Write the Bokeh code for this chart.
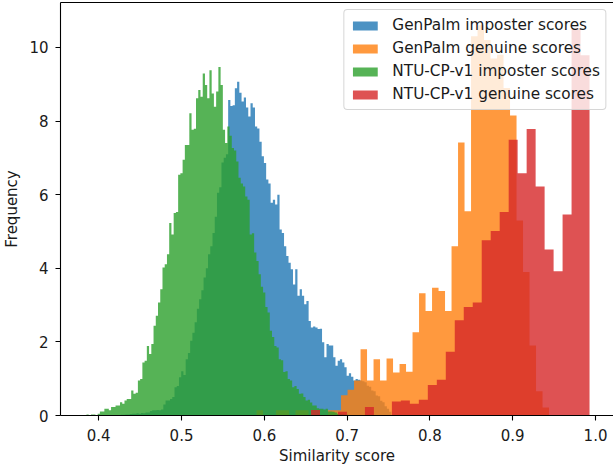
import numpy as np
from bokeh.plotting import figure
from bokeh.models import (Range1d, FixedTicker, NumeralTickFormatter, Legend,
                          LegendItem, LinearAxis)
from bokeh.embed import file_html
from bokeh.resources import INLINE

# ---------------- data (density histograms) ----------------
labels = ["GenPalm imposter scores", "GenPalm genuine scores",
          "NTU-CP-v1 imposter scores", "NTU-CP-v1 genuine scores"]
colors = ["#1f77b4", "#ff7f0e", "#2ca02c", "#d62728"]

x_ticks = [0.4, 0.5, 0.6, 0.7, 0.8, 0.9, 1.0]
y_ticks = [0, 2, 4, 6, 8, 10]

# GenPalm imposter: first bin edge, bin width, bin heights
gp_imp_start = 0.4213
gp_imp_width = 0.0027
gp_imp_heights = [
    0.01, 0.01, 0.02, 0.02, 0.03, 0.03, 0.04,
    0.05, 0.05, 0.06, 0.05, 0.07, 0.06, 0.08, 0.08,
    0.12, 0.14, 0.14, 0.15, 0.14, 0.16,
    0.30, 0.41, 0.41, 0.45, 0.50, 0.77, 0.80, 1.04, 1.20, 1.10,
    1.53, 1.70, 2.03, 2.25, 2.53, 2.90, 3.16, 3.40, 3.75, 4.00,
    4.38, 4.60, 4.96, 5.40, 6.05, 6.20, 6.87, 7.00, 7.10, 8.57,
    8.41, 8.43, 8.89, 9.07, 8.77, 8.53, 8.64, 8.37, 8.12, 8.48,
    8.37, 7.85, 7.80, 7.44, 7.04, 6.86, 6.41, 6.30, 5.78, 5.86,
    5.73, 6.00, 5.05, 4.96, 4.60, 4.33, 4.15, 3.97, 3.56, 3.97,
    3.25, 3.43, 3.25, 3.02, 3.11, 2.57, 2.39, 2.42, 2.39, 2.35,
    2.36, 1.99, 1.58, 1.94, 1.90, 1.90, 1.58, 1.35, 1.49, 1.53,
    1.44, 1.31, 1.08, 1.15, 1.05, 0.95, 0.99, 0.97, 0.95, 0.93,
    0.90, 0.81, 0.78, 0.68, 0.66, 0.54, 0.52, 0.40, 0.36, 0.25,
    0.18, 0.10]

# GenPalm genuine
gp_gen_start = 0.5906
gp_gen_width = 0.00785
gp_gen_heights = [
    0.14, 0.00, 0.00, 0.14, 0.14, 0.00, 0.14, 0.14, 0.00, 0.00,
    0.00, 0.14, 0.14,
    0.55, 0.70, 0.95, 1.80, 0.95, 1.53, 0.95, 1.55, 1.17, 1.40,
    1.19, 2.26, 3.32, 2.84, 3.47, 3.38, 2.84, 4.60, 7.42, 5.55,
    10.30, 10.60, 10.20, 9.70, 9.80, 8.90, 8.15, 5.30, 3.90, 1.90,
    0.66, 0.22]

# NTU-CP-v1 imposter
ntu_imp_start = 0.3852
ntu_imp_width = 0.0027
ntu_imp_heights = [
    0.03, 0.00, 0.03, 0.03, 0.00, 0.05, 0.11, 0.11, 0.18, 0.18,
    0.14, 0.23, 0.23, 0.27, 0.27, 0.36, 0.32, 0.41, 0.45, 0.45,
    0.68, 0.59, 0.62, 0.95, 0.99, 1.44, 1.49, 1.89, 1.67, 1.94,
    2.44, 2.71, 3.07, 3.43, 4.02, 4.11, 4.38, 5.23, 4.92, 5.50,
    5.53, 6.54, 6.58, 6.95, 7.35, 7.35, 8.21, 7.76, 7.79, 8.62,
    8.84, 8.66, 9.29, 8.98, 8.62, 9.38, 8.75, 8.39, 8.80, 9.47,
    8.98, 7.76, 7.40, 7.85, 7.60, 7.27, 7.20, 6.90, 6.46, 6.30,
    6.22, 5.95, 5.86, 4.92, 4.95, 4.43, 4.20, 3.84, 3.50, 3.34,
    2.95, 2.80, 2.30, 2.13, 1.89, 1.85, 1.53, 1.50, 1.18, 1.20,
    0.99, 0.95, 0.77, 0.80, 0.72, 0.59, 0.60, 0.50, 0.41, 0.43,
    0.35, 0.27, 0.27, 0.20, 0.18, 0.18, 0.16, 0.18, 0.11, 0.11,
    0.10, 0.08, 0.05, 0.05, 0.04, 0.03, 0.02]

# NTU-CP-v1 genuine
ntu_gen_start = 0.6564
ntu_gen_width = 0.01085
ntu_gen_heights = [
    0.15, 0.00, 0.00, 0.10, 0.00, 0.00, 0.23, 0.00, 0.00, 0.38,
    0.41, 0.32, 0.43, 0.83, 0.97, 1.73, 2.59, 2.95, 3.07, 4.76,
    5.01, 5.53, 7.49, 6.58, 7.78, 6.22, 4.51, 3.92, 5.46, 10.51,
    9.79]

series = [
    (labels[0], colors[0], gp_imp_start, gp_imp_width, gp_imp_heights),
    (labels[1], colors[1], gp_gen_start, gp_gen_width, gp_gen_heights),
    (labels[2], colors[2], ntu_imp_start, ntu_imp_width, ntu_imp_heights),
    (labels[3], colors[3], ntu_gen_start, ntu_gen_width, ntu_gen_heights),
]

FONT = "DejaVu Sans"
TXT = "#1a1a1a"

p = figure(width=613, height=467,
           x_range=Range1d(0.35383, 1.0217), y_range=Range1d(0, 11.22),
           output_backend="svg", toolbar_location=None,
           min_border_left=59, min_border_right=0, min_border_top=2,
           min_border_bottom=51)
p.outline_line_color = None
p.background_fill_color = "white"
p.border_fill_color = "white"
p.xgrid.visible = False
p.ygrid.visible = False

for ax in (p.xaxis[0], p.yaxis[0]):
    ax.axis_line_color = "black"
    ax.axis_line_width = 1.1
    ax.major_tick_line_color = "black"
    ax.major_tick_line_width = 1.1
    ax.major_tick_in = 0
    ax.major_tick_out = 5
    ax.minor_tick_line_color = None
    ax.major_label_text_font = FONT
    ax.major_label_text_font_size = "15px"
    ax.major_label_text_color = TXT
    ax.axis_label_text_font = FONT
    ax.axis_label_text_font_size = "15px"
    ax.axis_label_text_font_style = "normal"
    ax.axis_label_text_color = TXT

p.xaxis[0].ticker = FixedTicker(ticks=x_ticks)
p.xaxis[0].formatter = NumeralTickFormatter(format="0.0")
p.xaxis[0].axis_label = "Similarity score"
p.xaxis[0].major_label_standoff = 8
p.xaxis[0].axis_label_standoff = 3

p.yaxis[0].ticker = FixedTicker(ticks=y_ticks)
p.yaxis[0].formatter = NumeralTickFormatter(format="0")
p.yaxis[0].axis_label = "Frequency"
p.yaxis[0].major_label_standoff = 7
p.yaxis[0].axis_label_standoff = 5

# top spine
top = LinearAxis(ticker=FixedTicker(ticks=[]), major_tick_out=0, major_tick_in=0,
                 minor_tick_out=0, minor_tick_in=0,
                 major_label_text_font_size="0px",
                 axis_line_color="black", axis_line_width=1.1)
p.add_layout(top, "above")

items = []
for label, color, start, w, h in series:
    h = list(h) + [0.0]
    edges = start + w * np.arange(len(h))
    r = p.varea_step(x=edges, y1=np.zeros(len(h)), y2=np.asarray(h, dtype=float),
                     step_mode="after", fill_color=color, fill_alpha=0.8)
    items.append(LegendItem(label=label, renderers=[r]))

legend = Legend(items=items, location="top_right",
                label_text_font=FONT, label_text_font_size="15.3px",
                label_text_color=TXT,
                glyph_width=31, glyph_height=11, label_standoff=12,
                label_height=20, spacing=3, padding=5, margin=7,
                border_line_color="#cccccc", border_line_width=1,
                border_line_alpha=0.8,
                background_fill_color="white", background_fill_alpha=0.8)
try:
    legend.border_radius = 4
except Exception:
    pass
p.add_layout(legend)

open("out.html", "w").write(file_html(p, INLINE))
